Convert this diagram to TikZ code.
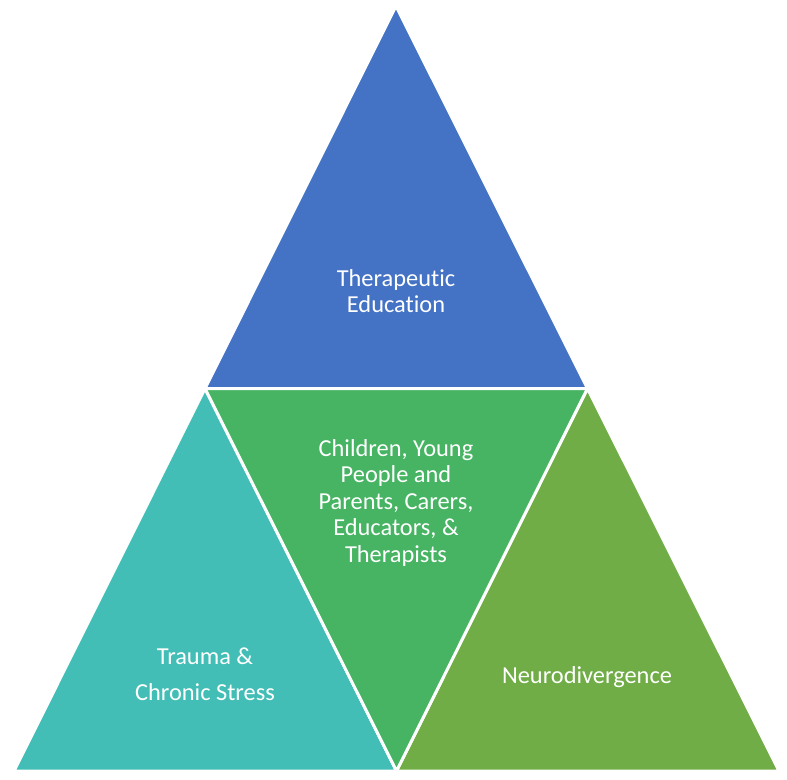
\documentclass[tikz,border=0pt]{standalone}
\usepackage{fontspec}
\setmainfont[Ligatures={NoCommon}]{Carlito}
\usetikzlibrary{calc}
\definecolor{cblue}{RGB}{68,114,196}
\definecolor{cteal}{RGB}{66,190,183}
\definecolor{cgreen}{RGB}{70,180,99}
\definecolor{olive}{RGB}{112,173,71}
\begin{document}
\begin{tikzpicture}[x=1pt,y=-1pt,
  tri/.style={draw=white,line width=3pt,line join=round},
  lbl/.style={text=white,align=center,font=\fontsize{24.4}{26.5}\selectfont}]
\useasboundingbox (0,0) rectangle (787,779);
\coordinate (A) at (396,6);
\coordinate (B) at (14,771);
\coordinate (C) at (779,771);
\coordinate (AB) at ($(A)!0.5!(B)$);
\coordinate (AC) at ($(A)!0.5!(C)$);
\coordinate (BC) at ($(B)!0.5!(C)$);
\fill[cblue,tri] (A) -- (AB) -- (AC) -- cycle;
\fill[cteal,tri] (AB) -- (B) -- (BC) -- cycle;
\fill[olive,tri] (AC) -- (BC) -- (C) -- cycle;
\fill[cgreen,tri] (AB) -- (AC) -- (BC) -- cycle;
\node[lbl] (top) at (396,291) {Therapeutic\\Education};
\node[lbl] (mid) at (396,502.5) {Children, Young\\People and\\Parents, Carers,\\Educators, \&\\Therapists};
\node[lbl,font=\fontsize{24.4}{36}\selectfont] (left) at (205,674) {Trauma \&\\Chronic Stress};
\node[lbl] (right) at (587,677) {Neurodivergence};
\end{tikzpicture}
\end{document}
